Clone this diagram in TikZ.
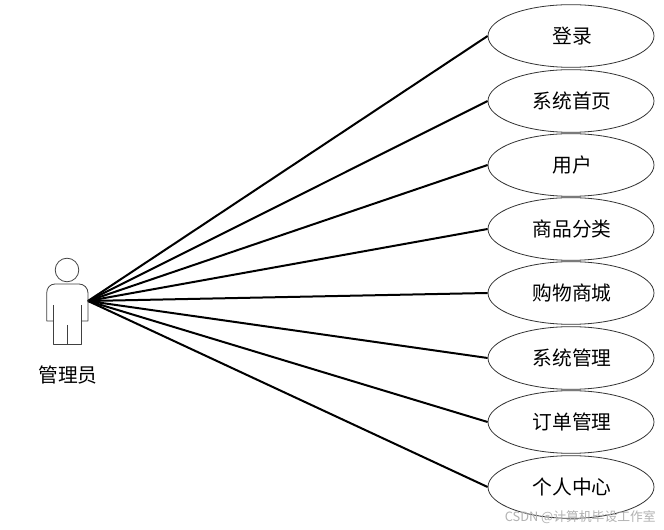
\documentclass[tikz,border=0pt]{standalone}
\usepackage{fontspec}
\setmainfont{Noto Sans CJK SC}
\usetikzlibrary{shapes.geometric}
\tikzset{
  usecase/.style={draw=black!80,line width=0.6pt,ellipse,minimum width=124.5pt,minimum height=47pt,inner sep=0pt,fill=white,font=\fontsize{14.8pt}{16pt}\selectfont,text depth=0pt,align=center},
  link/.style={draw=black,line width=1.5pt},
  figure/.style={draw=black!75,line width=0.6pt,line join=round},
  mark label/.style={font=\fontsize{9.6pt}{11pt}\selectfont,text=black!30,inner sep=0pt}
}
\begin{document}
\begin{tikzpicture}[x=0.75pt,y=-0.75pt]
\useasboundingbox (0,0) rectangle (664,530);
\fill[white] (0,0) rectangle (664,530);
\coordinate (hand) at (88,301);
\node[usecase] (u1) at (571,36) {};
\node[usecase] (u2) at (571,101) {};
\node[usecase] (u3) at (571,165) {};
\node[usecase] (u4) at (571,229) {};
\node[usecase] (u5) at (571,293) {};
\node[usecase] (u6) at (571,358) {};
\node[usecase] (u7) at (571,422) {};
\node[usecase] (u8) at (571,487) {};
\foreach \n/\t in {1/登录,2/系统首页,3/用户,4/商品分类,5/购物商城,6/系统管理,7/订单管理,8/个人中心}{
  \draw[link] (hand) -- (u\n.west);
  \node[font=\fontsize{14.8pt}{16pt}\selectfont,inner sep=0pt] (t\n) at ([xshift=0.75pt,yshift=-0.3pt]u\n.center) {\t};
}
\draw[figure] (67,270) circle (11.8);
\draw[figure] (53,305) -- (53,344) -- (81,344) -- (81,305);
\draw[figure] (67,325) -- (67,344);
\draw[figure] (53,321) -- (46.7,321) -- (46.7,293) .. controls (46.7,288) and (50,284) .. (55,284) -- (79,284) .. controls (84,284) and (88,288) .. (88,293) -- (88,321) -- (81,321);
\node[font=\fontsize{14.8pt}{16pt}\selectfont,inner sep=0pt] (actorname) at (68,375) {管理员};
\node[mark label,anchor=east] (wm) at (656,517) {CSDN @计算机毕设工作室};
\end{tikzpicture}
\end{document}
